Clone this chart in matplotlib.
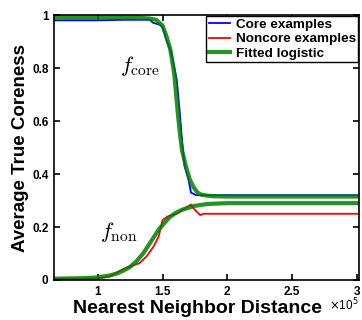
# -*- coding: utf-8 -*-
# nearest neighbor distance vs average true coreness

import matplotlib
matplotlib.use('Agg')
from matplotlib import pyplot as plt

plt.rcParams['font.family'] = ['Liberation Sans', 'DejaVu Sans']

# x in units of 1e5
core_x = [0.66, 0.8, 1.0, 1.2, 1.4, 1.43, 1.47, 1.5, 1.53, 1.57, 1.61, 1.63, 1.65, 1.67, 1.70, 1.72, 1.76, 2.0, 2.5, 3.02]
core_y = [0.98, 0.98, 0.98, 0.982, 0.982, 0.97, 0.965, 0.955, 0.905, 0.855, 0.755, 0.65, 0.53, 0.43, 0.38, 0.33, 0.32, 0.32, 0.32, 0.32]

non_x = [0.66, 0.9, 1.0, 1.09, 1.19, 1.27, 1.32, 1.375, 1.43, 1.47, 1.5, 1.54, 1.61, 1.67, 1.72, 1.74, 1.79, 1.82, 2.0, 2.5, 3.02]
non_y = [0.004, 0.005, 0.006, 0.013, 0.04, 0.055, 0.063, 0.088, 0.126, 0.164, 0.226, 0.24, 0.25, 0.27, 0.285, 0.27, 0.245, 0.25, 0.25, 0.25, 0.25]

fit_core_x = [0.66, 1.0, 1.3, 1.4, 1.45, 1.5, 1.53, 1.56, 1.59, 1.62, 1.635, 1.65, 1.68, 1.71, 1.74, 1.77, 1.8, 1.85, 1.9, 2.0, 2.5, 3.02]
fit_core_y = [0.99, 0.99, 0.99, 0.987, 0.982, 0.96, 0.92, 0.87, 0.78, 0.62, 0.55, 0.49, 0.43, 0.38, 0.35, 0.33, 0.322, 0.318, 0.316, 0.315, 0.315, 0.315]

fit_non_x = [0.66, 0.9, 1.0, 1.1, 1.15, 1.2, 1.25, 1.3, 1.35, 1.41, 1.47, 1.55, 1.6, 1.65, 1.75, 1.85, 2.0, 2.5, 3.02]
fit_non_y = [0.005, 0.007, 0.01, 0.018, 0.025, 0.036, 0.05, 0.072, 0.1, 0.145, 0.19, 0.235, 0.253, 0.265, 0.28, 0.287, 0.29, 0.29, 0.29]

fig = plt.figure(figsize=(3.62, 3.2), dpi=100)
ax = fig.add_axes([0.149, 0.125, 0.843, 0.828])

ax.plot(core_x, core_y, c='#0000ff', lw=1.3, label='Core examples')
ax.plot(non_x, non_y, c='#ff0000', lw=1.3, label='Noncore examples')
ax.plot(fit_core_x, fit_core_y, c='#008000', lw=3, alpha=0.85, label='Fitted logistic')
ax.plot(fit_non_x, fit_non_y, c='#008000', lw=3, alpha=0.85)

ax.set_xlim(0.66, 3.02)
ax.set_ylim(0, 1)
ax.set_xticks([1, 1.5, 2, 2.5, 3])
ax.set_xticklabels(['1', '1.5', '2', '2.5', '3'])
ax.set_yticks([0, 0.2, 0.4, 0.6, 0.8, 1])
ax.set_yticklabels(['0', '0.2', '0.4', '0.6', '0.8', '1'])
ax.tick_params(direction='in', top=True, right=True, length=4, width=1.2, labelsize=8.5, pad=4)
for t in ax.get_xticklabels() + ax.get_yticklabels():
    t.set_fontweight('bold')
for s in ax.spines.values():
    s.set_linewidth(1.2)

ax.set_xlabel('Nearest Neighbor Distance', fontsize=14, fontweight='bold')
ax.xaxis.set_label_coords(0.469, -0.075, transform=ax.transAxes)
ax.xaxis.label.set_va('top')
ax.set_ylabel('Average True Coreness', fontsize=13.5, fontweight='bold', labelpad=2)
fig.text(0.99, 0.022, r'$\times$10$^5$', fontsize=8.5, ha='right', va='bottom',
         math_fontfamily='dejavusans')

ax.text(1.17, 0.785, r'$f_{\rm core}$', fontsize=16, math_fontfamily='cm')
ax.text(1.02, 0.16, r'$f_{\rm non}$', fontsize=16, math_fontfamily='cm')

leg = ax.legend(loc='upper right', prop={'weight': 'bold', 'size': 9.7},
                fancybox=False, edgecolor='black', framealpha=1, handlelength=1.6,
                borderpad=0.2, labelspacing=0.15, handletextpad=0.4,
                borderaxespad=0.05)
leg.get_frame().set_linewidth(1.0)

fig.savefig('out.png', dpi=100)
